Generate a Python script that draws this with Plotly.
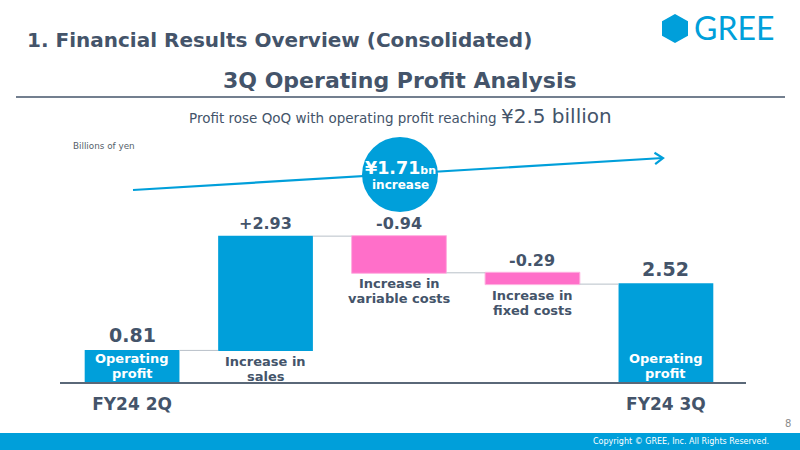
import plotly.graph_objects as go
import math

# ---- data ----
steps = ["FY24 2Q", "Increase in sales", "Increase in variable costs", "Increase in fixed costs", "FY24 3Q"]
measures = ["absolute", "relative", "relative", "relative", "absolute"]
values = [0.81, 2.93, -0.94, -0.29, 2.52]
value_labels = ["0.81", "+2.93", "-0.94", "-0.29", "2.52"]
inner_labels = [["Operating", "profit"], ["Increase in", "sales"], ["Increase in", "variable costs"],
                ["Increase in", "fixed costs"], ["Operating", "profit"]]
tick_labels = ["FY24 2Q", "FY24 3Q"]

BLUE = "#009fda"
PINK = "#ff6fc9"
TXT = "#44546a"
FONT = "DejaVu Sans"

W, H = 800, 450
def X(px): return px / W
def Y(py): return 1 - py / H

xs = list(range(len(steps)))

fig = go.Figure()
fig.add_trace(go.Waterfall(
    x=xs, y=values, measure=measures,
    increasing=dict(marker=dict(color=BLUE)),
    decreasing=dict(marker=dict(color=PINK, line=dict(color="#ffb0e0", width=1))),
    totals=dict(marker=dict(color=BLUE)),
    connector=dict(line=dict(color="#b8c0c8", width=1)),
    hoverinfo="skip",
))

# cumulative tops / bottoms
tops, bottoms = [], []
cum = 0
for m, v in zip(measures, values):
    if m == "absolute":
        tops.append(v); bottoms.append(0); cum = v
    else:
        prev = cum; cum = cum + v
        tops.append(max(prev, cum)); bottoms.append(min(prev, cum))

ann = []
big = [0, 4]
for i, lab in enumerate(value_labels):
    size = 19 if i in big else 16
    ann.append(dict(x=xs[i], y=tops[i], xref="x", yref="y", text=f"<b>{lab}</b>",
                    showarrow=False, yanchor="bottom", yshift=2 if i in big else 1,
                    font=dict(family=FONT, size=size, color=TXT)))
LS = 15
for i, lines in enumerate(inner_labels):
    for j, line in enumerate(lines):
        if measures[i] == "absolute":
            ann.append(dict(x=xs[i], y=0, xref="x", yref="y", text=f"<b>{line}</b>",
                            showarrow=False, yanchor="middle", yshift=9 + (len(lines) - 1 - j) * LS,
                            font=dict(family=FONT, size=13, color="white")))
        else:
            ann.append(dict(x=xs[i], y=bottoms[i], xref="x", yref="y", text=f"<b>{line}</b>",
                            showarrow=False, yanchor="middle", yshift=-11 - j * LS,
                            font=dict(family=FONT, size=13, color=TXT)))

# header texts
ann += [
    dict(x=X(25), y=Y(40), xref="paper", yref="paper", xanchor="left", yanchor="middle",
         text="<b>1. Financial Results Overview (Consolidated)</b>", showarrow=False,
         font=dict(family=FONT, size=20, color=TXT)),
    dict(x=X(400), y=Y(80), xref="paper", yref="paper", xanchor="center", yanchor="middle",
         text="<b>3Q Operating Profit Analysis</b>", showarrow=False,
         font=dict(family=FONT, size=22, color=TXT)),
    dict(x=X(400), y=Y(116), xref="paper", yref="paper", xanchor="center", yanchor="middle",
         text="Profit rose QoQ with operating profit reaching <span style='font-size:20px'>¥2.5 billion</span>",
         showarrow=False, font=dict(family=FONT, size=13.5, color=TXT)),
    dict(x=X(71), y=Y(146), xref="paper", yref="paper", xanchor="left", yanchor="middle",
         text="Billions of yen", showarrow=False, font=dict(family=FONT, size=8.8, color="#555f6a")),
    dict(x=X(692), y=Y(28), xref="paper", yref="paper", xanchor="left", yanchor="middle",
         text="GREE", showarrow=False, font=dict(family="Lato", size=32, color=BLUE)),
    dict(x=X(400), y=Y(168), xref="paper", yref="paper", xanchor="center", yanchor="middle",
         text="<b>¥1.71<span style='font-size:11px'>bn</span></b>", showarrow=False,
         font=dict(family=FONT, size=17.5, color="white")),
    dict(x=X(400), y=Y(185), xref="paper", yref="paper", xanchor="center", yanchor="middle",
         text="<b>increase</b>", showarrow=False, font=dict(family=FONT, size=12, color="white")),
    dict(x=X(793), y=Y(423), xref="paper", yref="paper", xanchor="right", yanchor="middle",
         text="8", showarrow=False, font=dict(family=FONT, size=10, color="#8a8a8a")),
    dict(x=X(771), y=Y(441), xref="paper", yref="paper", xanchor="right", yanchor="middle",
         text="Copyright © GREE, Inc. All Rights Reserved.", showarrow=False,
         font=dict(family=FONT, size=8, color="white")),
]

# shapes
sx, sy, ex, ey = 133, 190, 663, 158
ang = math.atan2(ey - sy, ex - sx)
L = 10
a1 = ang + math.pi - math.radians(35)
a2 = ang + math.pi + math.radians(35)
p1 = (ex + L * math.cos(a1), ey + L * math.sin(a1))
p2 = (ex + L * math.cos(a2), ey + L * math.sin(a2))

hex_c = (675, 28.5); hr = 14.5; hw = 13
hexpts = [(hex_c[0], hex_c[1] - hr), (hex_c[0] + hw, hex_c[1] - hr / 2), (hex_c[0] + hw, hex_c[1] + hr / 2),
          (hex_c[0], hex_c[1] + hr), (hex_c[0] - hw, hex_c[1] + hr / 2), (hex_c[0] - hw, hex_c[1] - hr / 2)]
hexpath = "M " + " L ".join(f"{X(px)} {Y(py)}" for px, py in hexpts) + " Z"

shapes = [
    dict(type="line", xref="paper", yref="paper", x0=X(16), x1=X(785), y0=Y(97), y1=Y(97),
         line=dict(color=TXT, width=1.5)),
    dict(type="line", xref="paper", yref="paper", x0=X(sx), y0=Y(sy), x1=X(ex), y1=Y(ey),
         line=dict(color=BLUE, width=2.2)),
    dict(type="path", xref="paper", yref="paper",
         path=f"M {X(p1[0])} {Y(p1[1])} L {X(ex)} {Y(ey)} L {X(p2[0])} {Y(p2[1])}",
         line=dict(color=BLUE, width=2.2)),
    dict(type="circle", xref="paper", yref="paper", x0=X(362), x1=X(438), y0=Y(212), y1=Y(137),
         fillcolor=BLUE, line=dict(width=0)),
    dict(type="path", xref="paper", yref="paper", path=hexpath, fillcolor=BLUE, line=dict(width=0)),
    dict(type="rect", xref="paper", yref="paper", x0=0, x1=1, y0=0, y1=Y(433),
         fillcolor=BLUE, line=dict(width=0), layer="below"),
]

fig.update_layout(
    width=W, height=H, margin=dict(l=0, r=0, t=0, b=0),
    paper_bgcolor="white", plot_bgcolor="white",
    showlegend=False, waterfallgap=0.29,
    xaxis=dict(domain=[X(60), X(746)], range=[-0.54, 4.6], showgrid=False, zeroline=False,
               showline=True, linecolor="#5a6878", linewidth=1.5, ticks="",
               tickvals=[xs[0], xs[-1]], ticktext=[f"<b>{t}</b>" for t in tick_labels],
               tickfont=dict(family=FONT, size=17, color=TXT), ticklabelstandoff=6),
    yaxis=dict(domain=[Y(382), Y(150)], range=[0, 232 / 39], visible=False),
    annotations=ann, shapes=shapes,
)

fig.write_html("out.html")
